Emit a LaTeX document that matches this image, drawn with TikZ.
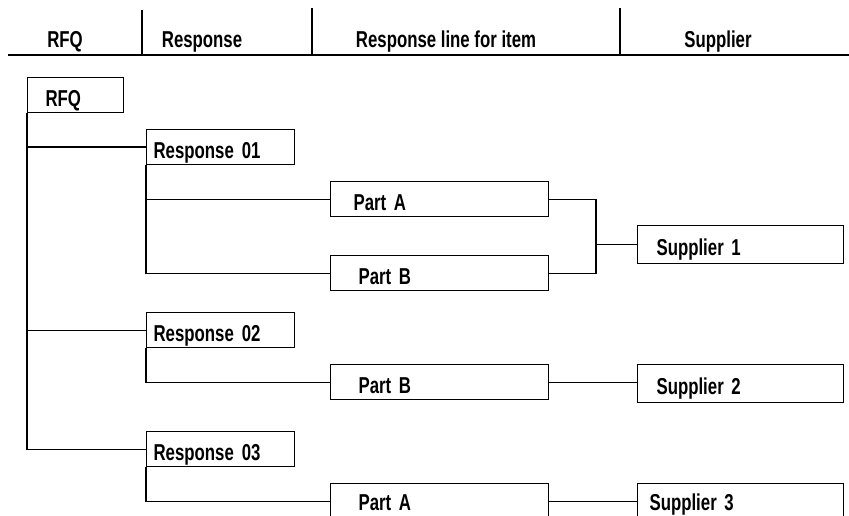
\documentclass[tikz,border=0pt]{standalone}
\usepackage{fontspec}
\setmainfont{Liberation Sans}[FakeStretch=0.73]
\begin{document}
\begin{tikzpicture}[x=1pt, y=-1pt,
    every node/.style={font=\bfseries\fontsize{23}{27}\selectfont},
    rule/.style={line width=1.2pt},
    head/.style={anchor=base},
    box/.style={draw, rectangle, line width=1.2pt, anchor=north west, inner ysep=0pt,
        minimum height=35pt, text height=22pt, text depth=0pt, align=left},
    rfqbox/.style={box, inner xsep=18pt, text width=60pt},
    respbox/.style={box, inner xsep=7pt, text width=134pt},
    partbox/.style={box, inner xsep=23pt, text width=172pt},
    supbox/.style={box, inner xsep=19pt, text width=168pt, minimum height=38pt}]
    \useasboundingbox (0,0) rectangle (849,516);
    \clip (0,0) rectangle (849,516);

    % Column headings
    \draw[rule] (8,55) -- (849,55);
    \draw[rule] (142,10) -- (142,55);
    \draw[rule] (312,8) -- (312,55);
    \draw[rule] (620,8) -- (620,55);
    \node[head] (hrfq) at (65,48) {RFQ};
    \node[head] (hresp) at (202,48) {Response};
    \node[head] (hline) at (446,48) {Response line for item};
    \node[head] (hsup) at (718,48) {Supplier};

    % Boxes
    \node[rfqbox] (rfq) at (27,77) {RFQ};
    \node[respbox] (r01) at (146,129) {Response\hspace{8pt}01};
    \node[respbox] (r02) at (146,312) {Response\hspace{8pt}02};
    \node[respbox] (r03) at (146,431) {Response\hspace{8pt}03};
    \node[partbox] (pa1) at (330,181) {Part A};
    \node[partbox] (pb1) at (330,255) {\hspace{5pt}Part B};
    \node[partbox] (pb2) at (330,364) {\hspace{5pt}Part B};
    \node[partbox, text height=18pt] (pa3) at (330,483) {\hspace{5pt}Part A};
    \node[supbox] (s1) at (637,225) {Supplier 1};
    \node[supbox] (s2) at (637,364) {Supplier 2};
    \node[supbox, inner xsep=12pt, text width=182pt, text height=16pt] (s3) at (637,483) {Supplier 3};

    % RFQ to responses
    \draw[rule] (rfq.south west) |- (r03.west);
    \draw[rule] (rfq.south west |- r01.west) -- (r01.west);
    \draw[rule] (rfq.south west |- r02.west) -- (r02.west);

    % Responses to lines
    \draw[rule] (r01.south west) |- (pb1.west);
    \draw[rule] (r01.south west |- pa1.west) -- (pa1.west);
    \draw[rule] (r02.south west) |- (pb2.west);
    \draw[rule] (r03.south west) |- (pa3.west);

    % Lines to suppliers
    \coordinate (j1) at ([xshift=-41pt]s1.west);
    \draw[rule] (pa1.east) -| (j1) |- (pb1.east);
    \draw[rule] (j1) -- (s1.west);
    \draw[rule] (pb2.east) -- (pb2.east -| s2.west);
    \draw[rule] (pa3.east) -- (pa3.east -| s3.west);
\end{tikzpicture}
\end{document}
